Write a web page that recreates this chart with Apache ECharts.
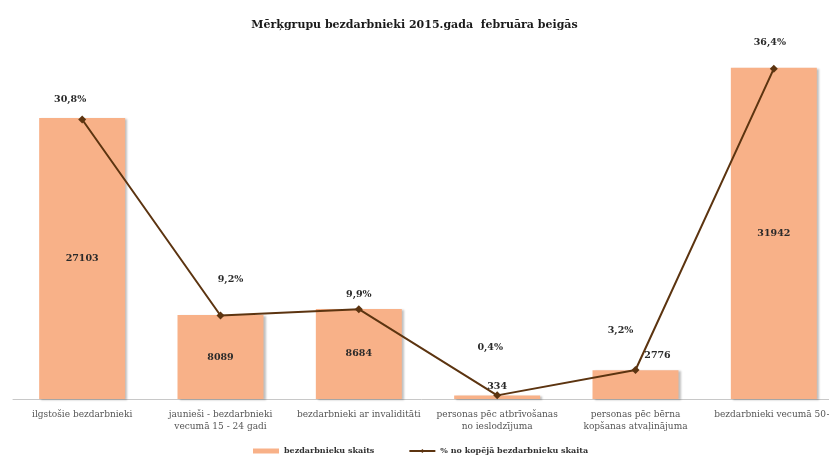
<!DOCTYPE html>
<html>
<head>
<meta charset="utf-8">
<script src="https://cdn.jsdelivr.net/npm/echarts@6/dist/echarts.min.js"></script>
<style>
  html, body { margin: 0; padding: 0; background: #fff; }
  #main { width: 829px; height: 457px; }
</style>
</head>
<body>
<div id="main"></div>
<script>
const categories = [
  'ilgstošie bezdarbnieki',
  'jaunieši - bezdarbnieki\nvecumā 15 - 24 gadi',
  'bezdarbnieki ar invaliditāti',
  'personas pēc atbrīvošanas\nno ieslodzījuma',
  'personas pēc bērna\nkopšanas atvaļinājuma',
  'bezdarbnieki vecumā 50+'
]
const counts = [27103, 8089, 8684, 334, 2776, 31942]
const percents = [30.8, 9.2, 9.9, 0.4, 3.2, 36.4]

const fontSerif = '"DejaVu Serif", "Liberation Serif", serif'
// label nudges
const pctOffsets = [[-12, -6], [10, -22], [0, -1], [-7, -34], [-15, -25], [-4, -12]]
const countLabelPos = ['inside', 'inside', 'inside', 'top', 'top', 'inside']
const countOffsets = [[0, 0], [0, 0], [0, 0], [0, 0], [22, -6], [0, 0]]

const myChart = echarts.init(document.getElementById('main'))

const option = {
  animation: false,
  backgroundColor: '#fff',
  title: {
    text: 'Mērķgrupu bezdarbnieki 2015.gada  februāra beigās',
    left: 'center',
    top: 15,
    textStyle: {
      fontFamily: fontSerif,
      fontSize: 11,
      fontWeight: 'bold',
      color: '#1a1a1a'
    }
  },
  legend: {
    left: 248,
    top: 442,
    itemGap: 34,
    itemWidth: 26,
    itemHeight: 5,
    textStyle: {
      fontFamily: fontSerif,
      fontSize: 8,
      fontWeight: 'bold',
      color: '#333'
    },
    data: [
      { name: 'bezdarbnieku skaits', icon: 'rect' },
      { name: '% no kopējā bezdarbnieku skaita' }
    ]
  },
  grid: {
    left: 13,
    width: 830,
    top: 36,
    bottom: 58,
    containLabel: false,
    outerBoundsMode: 'none'
  },
  xAxis: {
    type: 'category',
    data: categories,
    axisLine: { lineStyle: { color: '#c8c8c8', width: 1 } },
    axisTick: { show: false },
    axisLabel: {
      interval: 0,
      fontFamily: fontSerif,
      fontSize: 9,
      color: '#555',
      lineHeight: 12,
      margin: 10
    }
  },
  yAxis: [
    {
      type: 'value',
      min: 0,
      max: 35000,
      show: false,
      splitLine: { show: false }
    },
    {
      type: 'value',
      min: 0,
      max: 40,
      show: false,
      splitLine: { show: false }
    }
  ],
  series: [
    {
      name: 'bezdarbnieku skaits',
      type: 'bar',
      barWidth: 86,
      yAxisIndex: 0,
      itemStyle: {
        color: '#f8b188',
        shadowColor: 'rgba(0,0,0,0.25)',
        shadowBlur: 2,
        shadowOffsetX: 2,
        shadowOffsetY: 1
      },
      data: counts.map((v, i) => ({
        value: v,
        label: {
          show: true,
          position: countLabelPos[i],
          offset: countOffsets[i],
          distance: 4
        }
      })),
      label: {
        show: true,
        fontFamily: fontSerif,
        fontSize: 9.5,
        fontWeight: 'bold',
        color: '#2a2a2a'
      }
    },
    {
      name: '% no kopējā bezdarbnieku skaita',
      type: 'line',
      yAxisIndex: 1,
      symbol: 'diamond',
      symbolSize: 8,
      lineStyle: { color: '#5c3410', width: 2 },
      itemStyle: { color: '#5c3410' },
      data: percents.map((v, i) => ({
        value: v,
        label: { offset: pctOffsets[i] }
      })),
      label: {
        show: true,
        position: 'top',
        fontFamily: fontSerif,
        fontSize: 9.5,
        fontWeight: 'bold',
        color: '#2a2a2a',
        formatter: p => String(p.value).replace('.', ',') + '%'
      }
    }
  ]
}

myChart.setOption(option)
window.onresize = function () {
  myChart.resize()
}
</script>
</body>
</html>
